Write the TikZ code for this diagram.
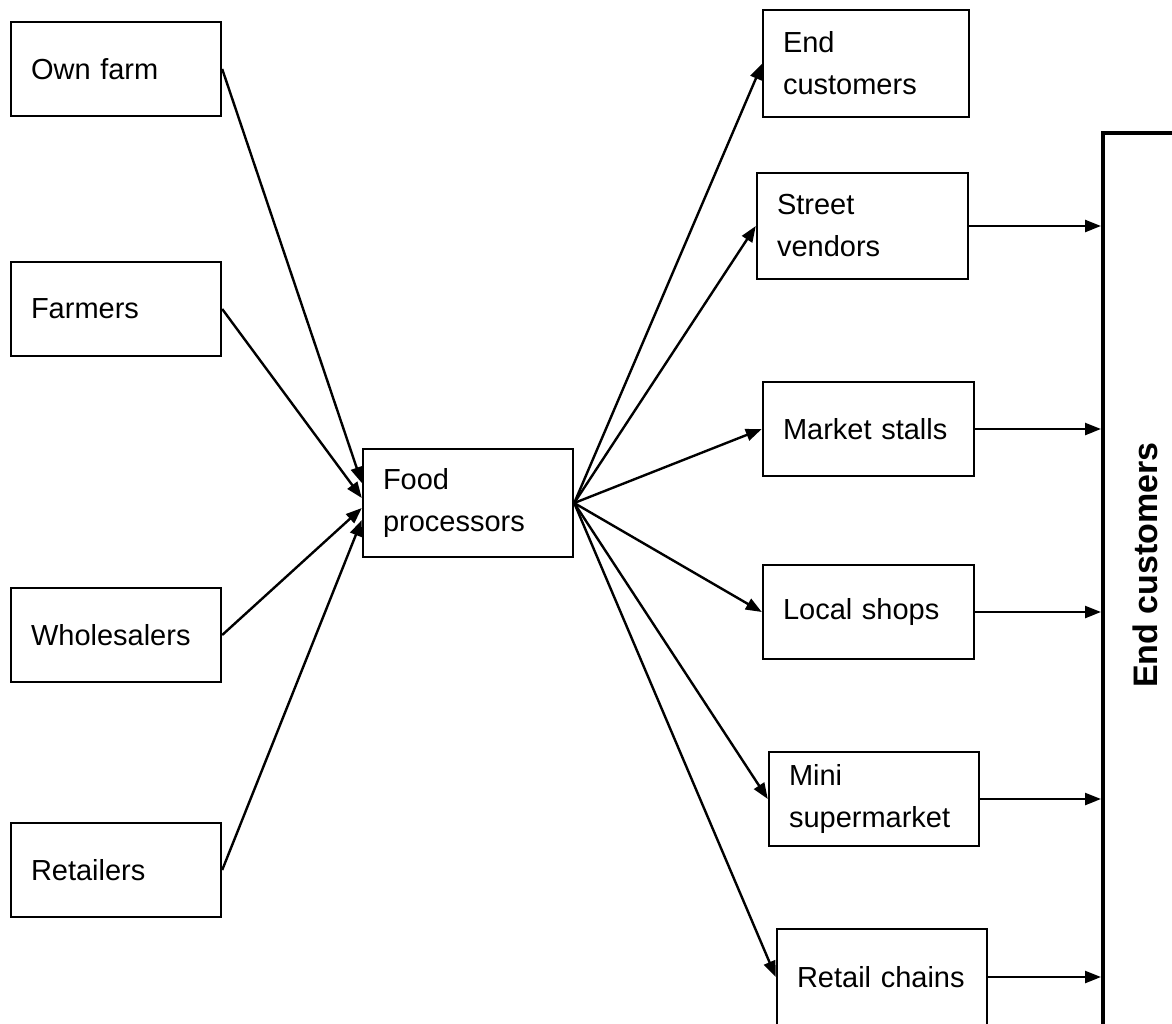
\documentclass[tikz,border=0pt]{standalone}
\usepackage{fontspec}
\setmainfont{Liberation Sans}
\usetikzlibrary{arrows.meta}
\begin{document}
\begin{tikzpicture}[x=1pt,y=-1pt,
  box/.style={draw, line width=2.4pt, rectangle, inner xsep=20pt, inner ysep=0pt,
    align=left, font=\fontsize{29}{42}\selectfont},
  lbox/.style={box, minimum width=210pt, minimum height=94pt, text width=170pt},
  arr/.style={line width=2.4pt, -{Triangle[length=16pt,width=12pt]}}
]
\useasboundingbox (0,0) rectangle (1172,1023);
\clip (0,0) rectangle (1172,1023);
\fill[white] (0,0) rectangle (1172,1023);

% left column
\node[lbox] (own)   at (116,69)  {Own farm};
\node[lbox] (farm)  at (116,309) {Farmers};
\node[lbox] (whole) at (116,635) {Wholesalers};
\node[lbox] (ret)   at (116,870) {Retailers};

% centre
\node[box, minimum width=210pt, minimum height=108pt, text width=170pt] (fp) at (468,503) {Food\\processors};

% right column
\node[box, line width=1.4pt, minimum width=206pt, minimum height=107pt, text width=166pt] (ec) at (866,63.5) {End\\customers};
\node[box, minimum width=211pt, minimum height=106pt, text width=171pt] (sv) at (862.5,226) {Street\\vendors};
\node[box, minimum width=211pt, minimum height=94pt, text width=171pt] (ms) at (868.5,429) {Market stalls};
\node[box, minimum width=211pt, minimum height=94pt, text width=171pt] (ls) at (868.5,612) {Local shops};
\node[box, minimum width=210pt, minimum height=94pt, text width=170pt] (mini) at (874,799) {Mini\\supermarket};
\node[box, minimum width=210pt, minimum height=96pt, text width=170pt] (rc) at (882,977) {Retail chains};

% big end customers box
\node[draw, line width=4pt, rectangle, minimum width=197pt, minimum height=967pt] (big) at (1201.5,616.5) {};
\node[font=\bfseries\fontsize{34}{40}\selectfont, rotate=90] (bigtxt) at (1145,565) {End customers};

% arrows into food processors
\draw[arr] (own.east)   -- ([yshift=20pt]fp.west);
\draw[arr] (farm.east)  -- ([yshift=5pt]fp.west);
\draw[arr] (whole.east) -- ([yshift=-5pt]fp.west);
\draw[arr] (ret.east)   -- ([yshift=-17pt]fp.west);

% arrows out of food processors
\draw[arr] (fp.east) -- (ec.west);
\draw[arr] (fp.east) -- (sv.west);
\draw[arr] (fp.east) -- (ms.west);
\draw[arr] (fp.east) -- (ls.west);
\draw[arr] (fp.east) -- (mini.west);
\draw[arr] (fp.east) -- (rc.west);

% arrows to end customers
\draw[arr] (sv.east)   -- (sv.east -| big.west);
\draw[arr] (ms.east)   -- (ms.east -| big.west);
\draw[arr] (ls.east)   -- (ls.east -| big.west);
\draw[arr] (mini.east) -- (mini.east -| big.west);
\draw[arr] (rc.east)   -- (rc.east -| big.west);
\end{tikzpicture}
\end{document}
